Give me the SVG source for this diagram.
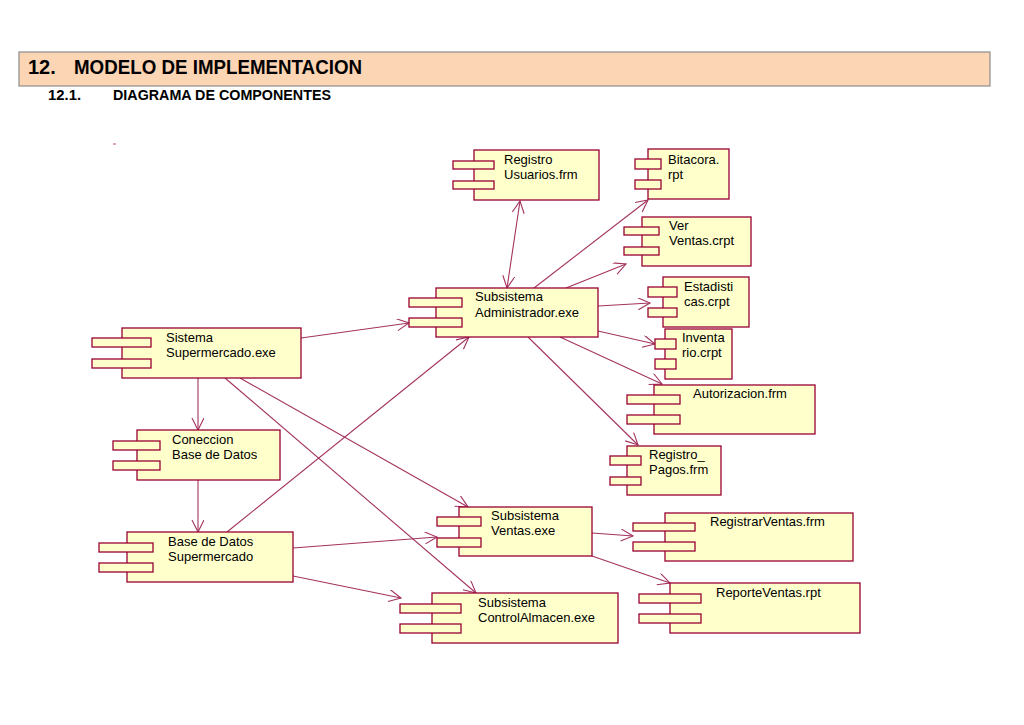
<svg xmlns="http://www.w3.org/2000/svg" width="1024" height="725" viewBox="0 0 1024 725">
<style>
.box{fill:#ffffcc;stroke:#990033;stroke-width:1.3}
.port{fill:#ffffcc;stroke:#990033;stroke-width:1.3}
.lbl{font-family:"Liberation Sans",Arial,sans-serif;font-size:13px;fill:#000}
.con{fill:none;stroke:#a3335f;stroke-width:1.1}
.hdr{font-family:"Liberation Sans",Arial,sans-serif;font-weight:bold;fill:#000}
</style>
<defs>
<marker id="arr" markerUnits="userSpaceOnUse" markerWidth="16" markerHeight="14" refX="13" refY="6" orient="auto-start-reverse" viewBox="0 0 16 14">
<path d="M1,0 L13,6 L1,12" fill="none" stroke="#a3335f" stroke-width="1.1"/>
</marker>
</defs>
<rect width="1024" height="725" fill="#ffffff"/>
<g id="header">
<rect x="19" y="52" width="971" height="34" fill="#fcd5b4" stroke="#8c8c8c" stroke-width="1.2"/>
<text class="hdr" x="28" y="74" font-size="20">12.</text>
<text class="hdr" x="74" y="74" font-size="20" textLength="288" lengthAdjust="spacingAndGlyphs">MODELO DE IMPLEMENTACION</text>
<text class="hdr" x="48" y="100" font-size="14.5" textLength="33" lengthAdjust="spacingAndGlyphs">12.1.</text>
<text class="hdr" x="113" y="100" font-size="14.5" textLength="218" lengthAdjust="spacingAndGlyphs">DIAGRAMA DE COMPONENTES</text>
<line x1="113" y1="144" x2="116" y2="144" stroke="#c0506e" stroke-width="1"/>
</g>
<g id="connectors">
<line class="con" x1="301" y1="338" x2="409" y2="323" marker-end="url(#arr)"/>
<line class="con" x1="198" y1="378" x2="198" y2="430" marker-end="url(#arr)"/>
<line class="con" x1="198" y1="480" x2="198" y2="532" marker-end="url(#arr)"/>
<line class="con" x1="240" y1="378" x2="468" y2="507" marker-end="url(#arr)"/>
<line class="con" x1="225" y1="378" x2="476" y2="593" marker-end="url(#arr)"/>
<line class="con" x1="227" y1="532" x2="469" y2="337" marker-end="url(#arr)"/>
<line class="con" x1="293" y1="548" x2="437" y2="537" marker-end="url(#arr)"/>
<line class="con" x1="293" y1="576" x2="401" y2="598" marker-end="url(#arr)"/>
<line class="con" x1="507" y1="288" x2="520" y2="201" marker-start="url(#arr)" marker-end="url(#arr)"/>
<line class="con" x1="534" y1="288" x2="648" y2="200" marker-end="url(#arr)"/>
<line class="con" x1="566" y1="288" x2="626" y2="264" marker-end="url(#arr)"/>
<line class="con" x1="598" y1="306" x2="650" y2="303" marker-end="url(#arr)"/>
<line class="con" x1="598" y1="331" x2="655" y2="344" marker-end="url(#arr)"/>
<line class="con" x1="560" y1="337" x2="662" y2="384" marker-end="url(#arr)"/>
<line class="con" x1="528" y1="337" x2="638" y2="445" marker-end="url(#arr)"/>
<line class="con" x1="592" y1="533" x2="633" y2="536" marker-end="url(#arr)"/>
<line class="con" x1="592" y1="556" x2="670" y2="583" marker-end="url(#arr)"/>
</g>
<g id="registro-usuarios">
<rect class="box" x="474" y="150" width="125" height="50"/>
<rect class="port" x="453" y="161" width="41" height="8"/>
<rect class="port" x="453" y="181" width="41" height="8"/>
<text class="lbl" x="504" y="164">Registro</text>
<text class="lbl" x="504" y="179">Usuarios.frm</text>
</g>
<g id="bitacora">
<rect class="box" x="648" y="149" width="81" height="50"/>
<rect class="port" x="635" y="159" width="26" height="10"/>
<rect class="port" x="635" y="180" width="26" height="9"/>
<text class="lbl" x="668" y="164">Bitacora.</text>
<text class="lbl" x="668" y="179">rpt</text>
</g>
<g id="ver-ventas">
<rect class="box" x="642" y="217" width="109" height="49"/>
<rect class="port" x="624" y="227" width="35" height="8"/>
<rect class="port" x="624" y="247" width="35" height="8"/>
<text class="lbl" x="669" y="230">Ver</text>
<text class="lbl" x="669" y="245">Ventas.crpt</text>
</g>
<g id="subsistema-administrador">
<rect class="box" x="436" y="288" width="162" height="49"/>
<rect class="port" x="409" y="298" width="53" height="9"/>
<rect class="port" x="409" y="318" width="53" height="9"/>
<text class="lbl" x="475" y="301">Subsistema</text>
<text class="lbl" x="475" y="317">Administrador.exe</text>
</g>
<g id="estadisticas">
<rect class="box" x="663" y="277" width="86" height="50"/>
<rect class="port" x="648" y="287" width="29" height="10"/>
<rect class="port" x="648" y="308" width="29" height="9"/>
<text class="lbl" x="684" y="291">Estadisti</text>
<text class="lbl" x="684" y="306">cas.crpt</text>
</g>
<g id="inventario">
<rect class="box" x="665" y="329" width="67" height="50"/>
<rect class="port" x="655" y="339" width="21" height="10"/>
<rect class="port" x="655" y="359" width="21" height="10"/>
<text class="lbl" x="682" y="342">Inventa</text>
<text class="lbl" x="682" y="357">rio.crpt</text>
</g>
<g id="autorizacion">
<rect class="box" x="654" y="385" width="161" height="49"/>
<rect class="port" x="627" y="395" width="53" height="9"/>
<rect class="port" x="627" y="415" width="53" height="9"/>
<text class="lbl" x="693" y="398">Autorizacion.frm</text>
</g>
<g id="registro-pagos">
<rect class="box" x="627" y="446" width="94" height="49"/>
<rect class="port" x="610" y="456" width="31" height="9"/>
<rect class="port" x="610" y="477" width="31" height="8"/>
<text class="lbl" x="649" y="459">Registro_</text>
<text class="lbl" x="649" y="474">Pagos.frm</text>
</g>
<g id="sistema-supermercado">
<rect class="box" x="122" y="328" width="179" height="50"/>
<rect class="port" x="92" y="338" width="59" height="9"/>
<rect class="port" x="92" y="359" width="59" height="9"/>
<text class="lbl" x="166" y="342">Sistema</text>
<text class="lbl" x="166" y="357">Supermercado.exe</text>
</g>
<g id="coneccion-base-datos">
<rect class="box" x="137" y="430" width="143" height="50"/>
<rect class="port" x="113" y="441" width="47" height="9"/>
<rect class="port" x="113" y="461" width="47" height="9"/>
<text class="lbl" x="172" y="444">Coneccion</text>
<text class="lbl" x="172" y="459">Base de Datos</text>
</g>
<g id="base-datos-supermercado">
<rect class="box" x="127" y="532" width="166" height="50"/>
<rect class="port" x="99" y="543" width="54" height="9"/>
<rect class="port" x="99" y="563" width="54" height="9"/>
<text class="lbl" x="168" y="546">Base de Datos</text>
<text class="lbl" x="168" y="561">Supermercado</text>
</g>
<g id="subsistema-ventas">
<rect class="box" x="459" y="507" width="133" height="49"/>
<rect class="port" x="437" y="517" width="44" height="9"/>
<rect class="port" x="437" y="538" width="44" height="9"/>
<text class="lbl" x="491" y="520">Subsistema</text>
<text class="lbl" x="491" y="535">Ventas.exe</text>
</g>
<g id="registrar-ventas">
<rect class="box" x="665" y="513" width="188" height="48"/>
<rect class="port" x="633" y="523" width="62" height="8"/>
<rect class="port" x="633" y="542" width="62" height="9"/>
<text class="lbl" x="710" y="526">RegistrarVentas.frm</text>
</g>
<g id="reporte-ventas">
<rect class="box" x="670" y="583" width="190" height="50"/>
<rect class="port" x="639" y="594" width="62" height="9"/>
<rect class="port" x="639" y="614" width="62" height="9"/>
<text class="lbl" x="716" y="597">ReporteVentas.rpt</text>
</g>
<g id="subsistema-controlalmacen">
<rect class="box" x="432" y="593" width="186" height="50"/>
<rect class="port" x="400" y="604" width="61" height="9"/>
<rect class="port" x="400" y="624" width="61" height="9"/>
<text class="lbl" x="478" y="607">Subsistema</text>
<text class="lbl" x="478" y="622">ControlAlmacen.exe</text>
</g>
</svg>
